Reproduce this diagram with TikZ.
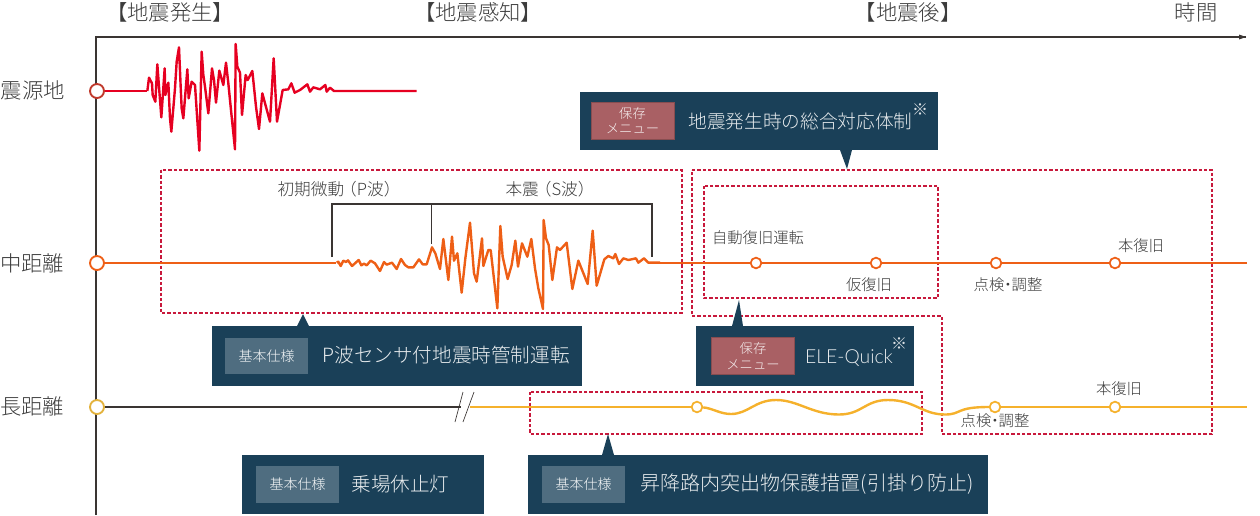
\documentclass[tikz,border=0pt]{standalone}
\usepackage{fontspec}
\setmainfont{Noto Sans CJK JP Light}
\newfontfamily\latinfont{Lato Light}
\usepackage{xcolor}
\usetikzlibrary{positioning, calc}

\definecolor{panelblue}{HTML}{1A4058}
\definecolor{tagrose}{HTML}{A96064}
\definecolor{tagslate}{HTML}{4F6D80}
\definecolor{dashred}{HTML}{C8193C}
\definecolor{seisred}{HTML}{E60021}
\definecolor{dotred}{HTML}{C0392B}
\definecolor{seisorange}{HTML}{EE5F16}
\definecolor{seisyellow}{HTML}{F5B12C}
\definecolor{dotyellow}{HTML}{E3B23C}
\definecolor{axisgray}{HTML}{3A3533}
\definecolor{labelgray}{HTML}{3C3C3C}

\tikzset{
  axisline/.style={draw=axisgray,line width=1.5pt},
  bracketline/.style={draw=axisgray,line width=1.4pt},
  dashbox/.style={draw=dashred,line width=1.5pt,dash pattern=on 2.4pt off 1.6pt},
  redline/.style={draw=seisred,line width=1.8pt,line join=round},
  orangeline/.style={draw=seisorange,line width=1.8pt,line join=round},
  yellowline/.style={draw=seisyellow,line width=1.8pt,line join=round},
  axisdot/.style={circle,draw=#1,fill=white,line width=1.4pt,inner sep=0pt,minimum size=10.5pt},
  smalldot/.style={circle,draw=#1,fill=white,line width=1.3pt,inner sep=0pt,minimum size=8pt},
  panel/.style={fill=panelblue,draw=none},
  paneltext/.style={text=white!90!panelblue,font=\fontsize{14.7}{17}\selectfont,inner sep=0pt},
  panelnote/.style={text=white!85!panelblue,font=\fontsize{12}{12}\selectfont,inner sep=0pt},
  tagrosebox/.style={fill=tagrose,draw=tagrose!80!black,text=white!90!tagrose,minimum width=62pt,minimum height=27.5pt,
    inner sep=0pt,align=center,font=\fontsize{10}{11.5}\selectfont},
  tagslatebox/.style={fill=tagslate,text=white!95!tagslate,minimum width=62pt,minimum height=27.5pt,
    inner sep=0pt,font=\fontsize{10.5}{12}\selectfont},
  headlabel/.style={text=labelgray,font=\fontsize{16}{18}\selectfont,inner sep=0pt},
  wavelabel/.style={text=labelgray,font=\fontsize{12.5}{14}\selectfont,inner sep=0pt},
  ptlabel/.style={text=labelgray,font=\fontsize{11.5}{13}\selectfont,inner sep=0pt},
}

\newcommand{\checklabel}{点検\kern-3pt・\kern-3pt調整}

\begin{document}
\begin{tikzpicture}[x=0.75pt,y=-0.75pt]
  \useasboundingbox (0,0) rectangle (1260,515);

  % time axis
  \coordinate (axisTop) at (96,37);
  \coordinate (axisEnd) at (1246,37);
  \coordinate (axisLow) at (96,515);
  \draw[axisline] (axisLow) -- (axisTop) -- (axisEnd);
  \fill[axisgray] (1246,37) -- (1239,34.5) -- (1239,39.5) -- cycle;

  % headings
  \node[headlabel] (headA) at (170,12) {【地震発生】};
  \node[headlabel] (headB) at (478,12) {【地震感知】};
  \node[headlabel] (headC) at (908,12) {【地震後】};
  \node[headlabel] (headD) at (1196,12) {時間};
  \node[headlabel] (rowA) at (33,90) {震源地};
  \node[headlabel] (rowB) at (32,263) {中距離};
  \node[headlabel] (rowC) at (32,406) {長距離};

  % dashed areas
  \draw[dashbox] (161,170) rectangle (682,313);
  \draw[dashbox] (692,170) -- (1212,170) -- (1212,434) -- (942,434) -- (942,316) -- (692,316) -- cycle;
  \draw[dashbox] (704,186) rectangle (938,298);
  \draw[dashbox] (530,392) rectangle (922,434);

  % brackets
  \draw[bracketline] (332,257) -- (332,204) -- (652,204) -- (652,257);
  \draw[bracketline] (431.5,204) -- (431.5,244);
  \node[wavelabel] (waveP) at (339,189) {初期微動\kern-3pt（P波）};
  \node[wavelabel] (waveS) at (550,189) {本震\kern-3pt（S波）};

  % epicentre
  \node[axisdot=dotred] (srcDot) at (97,91) {};
  \coordinate (srcWave) at (147,91);
  \draw[redline] (srcDot) -- (srcWave);
  \begin{scope}[shift={(90,30)},x=0.25pt,y=-0.25pt]
    \draw[redline] plot coordinates {(172,183)(177,143)(186,160)(188,195)(196,215)(202,103)(207,170)(214,262)(224,115)(226,195)(235,158)(240,265)(244,305)(255,175)(260,95)(267,52)(272,170)(275,235)(280,265)(292,118)(296,205)(305,155)(315,165)(328,362)(335,65)(340,135)(345,170)(355,250)(366,115)(372,150)(378,218)(388,122)(400,165)(408,98)(415,160)(424,250)(435,358)(437,42)(442,110)(450,128)(456,255)(467,135)(473,150)(487,123)(498,230)(507,297)(517,190)(540,275)(551,85)(561,275)(578,180)(595,178)(604,160)(614,188)(630,180)(652,163)(660,185)(670,172)(690,178)(706,165)(710,185)(720,173)(732,183)(980,183)};
  \end{scope}

  % middle distance
  \node[axisdot=seisorange] (midDot) at (97,263) {};
  \coordinate (midWave) at (336,263);
  \coordinate (midOut) at (650,263);
  \coordinate (midEnd) at (1247,263);
  \node[smalldot=seisorange] (midAuto) at (756,263) {};
  \node[smalldot=seisorange] (midTemp) at (876,263) {};
  \node[smalldot=seisorange] (midCheck) at (996,263) {};
  \node[smalldot=seisorange] (midFull) at (1115,263) {};
  \draw[orangeline] (midDot) -- (midWave);
  \draw[orangeline] (midOut) -- (midAuto) -- (midTemp) -- (midCheck) -- (midFull) -- (midEnd);
  \begin{scope}[shift={(320,190)},x=0.25pt,y=-0.25pt]
    \draw[orangeline] plot coordinates {(50,218)(55,215)(62,228)(70,212)(78,216)(84,211)(96,228)(116,210)(124,226)(132,221)(140,226)(152,212)(165,220)(180,243)(192,216)(200,224)(216,218)(230,237)(243,207)(255,225)(265,232)(280,232)(297,208)(308,223)(320,223)(336,172)(346,190)(360,237)(370,147)(385,270)(396,140)(402,212)(412,190)(425,308)(436,205)(450,98)(462,250)(470,275)(486,145)(490,228)(505,180)(512,180)(532,355)(541,108)(548,200)(563,267)(575,225)(586,152)(594,230)(606,160)(622,200)(634,147)(645,235)(655,295)(669,357)(671,90)(678,145)(686,165)(697,270)(711,172)(720,180)(740,158)(757,297)(775,212)(803,282)(818,122)(830,287)(853,208)(865,198)(880,205)(886,192)(897,222)(910,205)(925,210)(948,205)(955,218)(972,205)(985,218)(1020,218)};
  \end{scope}
  \node[ptlabel] (lblAuto) at (758,238) {自動復旧運転};
  \node[ptlabel] (lblTemp) at (869,285) {仮復旧};
  \node[ptlabel] (lblCheck) at (1008,285) {\checklabel};
  \node[ptlabel] (lblFull) at (1141,246) {本復旧};

  % long distance
  \node[axisdot=dotyellow] (farDot) at (97,407) {};
  \coordinate (farBreak) at (461,407);
  \coordinate (farResume) at (470,407);
  \coordinate (farEnd) at (1247,407);
  \node[smalldot=seisyellow] (farA) at (697,407) {};
  \node[smalldot=seisyellow] (farCheck) at (995,407) {};
  \node[smalldot=seisyellow] (farFull) at (1115,407) {};
  \draw[axisline,line width=1.2pt] (farDot) -- (farBreak);
  \draw[axisgray,line width=0.5pt] (463,392) -- (455,422);
  \draw[axisgray,line width=0.5pt] (474,392) -- (463,422);
  \draw[yellowline] (farResume) -- (farA);
  \draw[yellowline] (farA) .. controls (712,408) and (720,414) .. (731,414)
    .. controls (748,414) and (755,400) .. (776,400)
    .. controls (798,400) and (812,414.5) .. (839,414.5)
    .. controls (862,414.5) and (865,400) .. (888,400)
    .. controls (915,400) and (922,414.5) .. (945,414.5)
    .. controls (962,414.5) and (955,407) .. (farCheck);
  \draw[yellowline] (farCheck) -- (farFull) -- (farEnd);
  \node[ptlabel] (lblFarCheck) at (995,421) {\checklabel};
  \node[ptlabel] (lblFarFull) at (1119,389) {本復旧};

  % panels
  \fill[panel] (580,92) rectangle (938,150);
  \fill[panel] (840,150) -- (852,150) -- (847,169) -- cycle;
  \node[tagrosebox] (tagTotal) at (632.5,120.5) {保存\\メニュー};
  \node[paneltext,font=\fontsize{14}{16}\selectfont] (txtTotal) at (800.5,121) {地震発生時の総合対応体制};
  \node[panelnote] (noteTotal) at (920,110) {※};

  \fill[panel] (212,326) rectangle (582,386);
  \fill[panel] (297,326) -- (309,326) -- (303,314) -- cycle;
  \node[tagslatebox] (tagSensor) at (266.5,356) {基本仕様};
  \node[paneltext] (txtSensor) at (446,355) {P波センサ付地震時管制運転};

  \fill[panel] (696,326) rectangle (914,386);
  \fill[panel] (732,326) -- (743,326) -- (739,300) -- cycle;
  \node[tagrosebox] (tagQuick) at (753,356) {保存\\メニュー};
  \node[paneltext,font=\latinfont\fontsize{14.5}{16}\selectfont] (txtQuick) at (849,358) {ELE-Quick};
  \node[panelnote] (noteQuick) at (899,344) {※};

  \fill[panel] (242,455) rectangle (484,514);
  \node[tagslatebox] (tagHall) at (297.5,484.5) {基本仕様};
  \node[paneltext] (txtHall) at (400.5,484) {乗場休止灯};

  \fill[panel] (528,455) rectangle (988,514);
  \fill[panel] (602,455) -- (614,455) -- (608,434) -- cycle;
  \node[tagslatebox] (tagShaft) at (583.5,484.5) {基本仕様};
  \node[paneltext,font=\fontsize{15}{17}\selectfont] (txtShaft) at (807,484) {昇降路内突出物保護措置(引掛り防止)};
\end{tikzpicture}
\end{document}
